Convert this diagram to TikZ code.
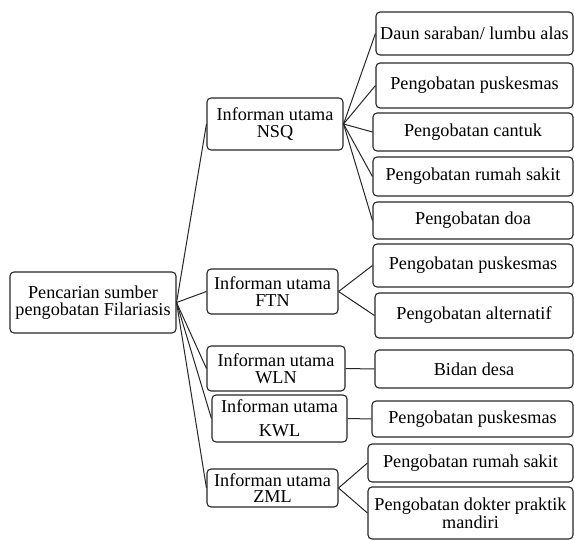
\documentclass[tikz,border=0pt]{standalone}
\usepackage{fontspec}
\setmainfont{Liberation Serif}
\begin{document}
\begin{tikzpicture}[x=1pt,y=-1pt,
  box/.style={draw=black!85, line width=1.1pt, rounded corners=4pt, inner sep=1pt, align=center,
    font=\fontsize{18.2}{16.5}\selectfont, anchor=center},
  link/.style={draw=black!85, line width=1pt}]
\useasboundingbox (0,0) rectangle (574,540);
% root
\node[box, minimum width=166, minimum height=61] (root) at (93,302.5) {Pencarian sumber\\pengobatan Filariasis};
% informants
\node[box, minimum width=136, minimum height=52] (nsq) at (275,124) {Informan utama\\[1pt]NSQ};
\node[box, minimum width=131, minimum height=45] (ftn) at (272.5,291.5) {Informan utama\\FTN};
\node[box, minimum width=138, minimum height=45] (wln) at (276,368.5) {Informan utama\\WLN};
\node[box, minimum width=135, minimum height=47] (kwl) at (279.5,418.5) {Informan utama\\[7.5pt]KWL};
\node[box, minimum width=131, minimum height=38] (zml) at (272.5,488) {Informan utama\\ZML};
% leaves
\node[box, minimum width=197, minimum height=43] (l1) at (474.5,33.5) {Daun saraban/ lumbu alas};
\node[box, minimum width=197, minimum height=45] (l2) at (474.5,85.5) {Pengobatan puskesmas};
\node[box, minimum width=200, minimum height=38] (l3) at (473,132) {Pengobatan cantuk};
\node[box, minimum width=200, minimum height=39] (l4) at (473,176.5) {Pengobatan rumah sakit};
\node[box, minimum width=200, minimum height=37] (l5) at (473,220.5) {Pengobatan doa};
\node[box, minimum width=200, minimum height=43] (l6) at (473,265.5) {Pengobatan puskesmas};
\node[box, minimum width=198, minimum height=45] (l7) at (474,315.5) {Pengobatan alternatif};
\node[box, minimum width=198, minimum height=38] (l8) at (474,369) {Bidan desa};
\node[box, minimum width=201, minimum height=36] (l9) at (472.5,419) {Pengobatan puskesmas};
\node[box, minimum width=205, minimum height=38] (l10) at (470.5,463) {Pengobatan rumah sakit};
\node[box, minimum width=205, minimum height=52] (l11) at (470.5,513) {Pengobatan dokter praktik\\mandiri};
% connectors
\foreach \n in {nsq,ftn,wln,kwl,zml} \draw[link] (root.east) -- (\n.west);
\foreach \n in {l1,l2,l3,l4,l5} \draw[link] (nsq.east) -- (\n.west);
\foreach \n in {l6,l7} \draw[link] (ftn.east) -- (\n.west);
\draw[link] (wln.east) -- (l8.west);
\draw[link] (kwl.east) -- (l9.west);
\foreach \n in {l10,l11} \draw[link] (zml.east) -- (\n.west);
\end{tikzpicture}
\end{document}
